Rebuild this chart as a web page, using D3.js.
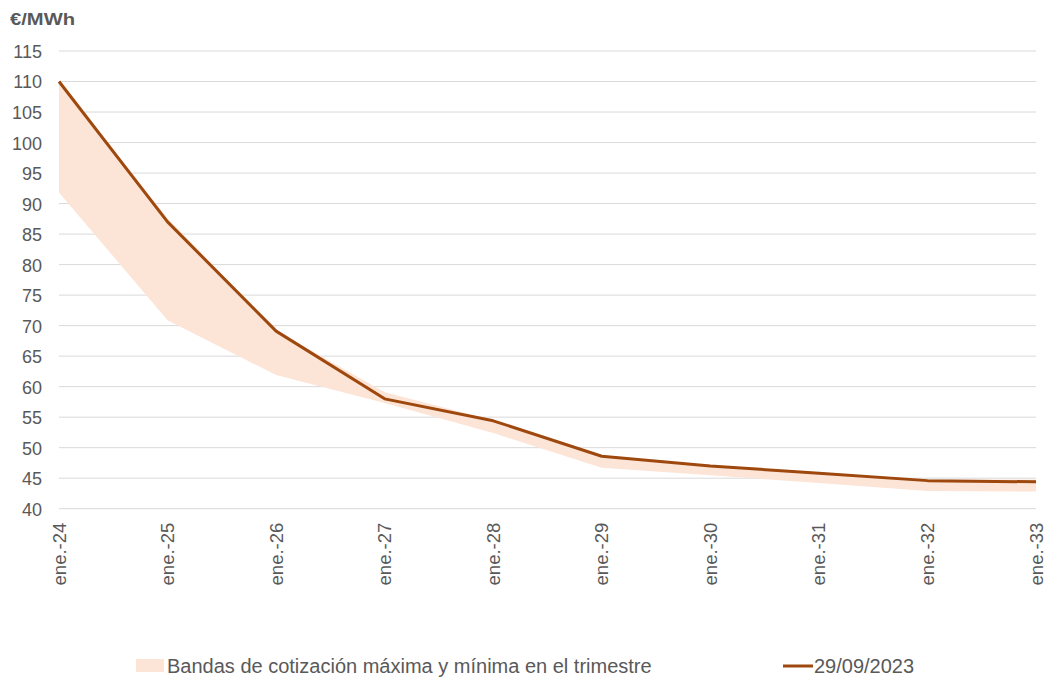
<!DOCTYPE html>
<html>
<head>
<meta charset="utf-8">
<script src="https://cdn.jsdelivr.net/npm/d3@7"></script>
<style>
  body { margin: 0; background: #fff; }
  svg { font-family: "Liberation Sans", Arial, sans-serif; }
</style>
</head>
<body>
<svg id="chart" width="1045" height="680"></svg>
<script>
// Forward curve dates
const categories = ["ene.-24", "ene.-25", "ene.-26", "ene.-27", "ene.-28", "ene.-29", "ene.-30", "ene.-31", "ene.-32", "ene.-33"];
// Quote on 29/09/2023 (€/MWh)
const quote = [110, 87.0, 69.1, 58.0, 54.4, 48.6, 47.0, 45.8, 44.6, 44.4];
// Quarterly max / min quote band (€/MWh)
const bandMax = [110, 87.6, 69.2, 59.1, 54.5, 48.7, 47.1, 45.9, 44.8, 44.8];
const bandMin = [91.8, 70.9, 61.9, 57.3, 52.4, 46.7, 45.5, 44.2, 42.9, 42.8];
const yTicks = [40, 45, 50, 55, 60, 65, 70, 75, 80, 85, 90, 95, 100, 105, 110, 115];

const svg = d3.select("#chart");
const plotLeft = 59, plotRight = 1036, plotTop = 51, plotBottom = 508.7;

const x = d3.scalePoint().domain(categories).range([plotLeft, plotRight]);
const y = d3.scaleLinear().domain([40, 115]).range([plotBottom, plotTop]);

const textColor = "#595959";

// Horizontal gridlines
svg.append("g")
  .selectAll("line")
  .data(yTicks)
  .join("line")
  .attr("x1", plotLeft).attr("x2", plotRight)
  .attr("y1", d => y(d)).attr("y2", d => y(d))
  .attr("stroke", "#d9d9d9").attr("stroke-width", 1);

// Y axis labels
const yAxis = svg.append("g")
  .attr("transform", "translate(42,0)")
  .call(d3.axisLeft(y).tickValues(yTicks).tickSize(0).tickPadding(0));
yAxis.select(".domain").remove();
yAxis.selectAll("text")
  .attr("fill", textColor)
  .style("font-size", "18px")
  .attr("x", 0)
  .attr("dy", "0.36em");

// X axis labels (rotated)
const xAxis = svg.append("g")
  .attr("transform", `translate(0,${plotBottom})`)
  .call(d3.axisBottom(x).tickSize(0).tickPadding(0));
xAxis.select(".domain").remove();
xAxis.selectAll("text")
  .attr("fill", textColor)
  .style("font-size", "18.5px")
  .attr("text-anchor", "end")
  .attr("transform", "translate(0,14) rotate(-90)")
  .attr("x", 0).attr("y", 0)
  .attr("dy", "0.33em");

// Max/min band
const bandData = categories.map((c, i) => ({ c, hi: bandMax[i], lo: bandMin[i] }));
svg.append("path")
  .datum(bandData)
  .attr("fill", "#fce4d6")
  .attr("d", d3.area().x(d => x(d.c)).y0(d => y(d.lo)).y1(d => y(d.hi)));

// Quote line
svg.append("path")
  .datum(categories.map((c, i) => ({ c, v: quote[i] })))
  .attr("fill", "none")
  .attr("stroke", "#9e480e")
  .attr("stroke-width", 3)
  .attr("stroke-linejoin", "round")
  .attr("d", d3.line().x(d => x(d.c)).y(d => y(d.v)));

// Unit label
svg.append("text")
  .attr("x", 10).attr("y", 25)
  .attr("fill", textColor)
  .style("font-size", "17px").style("font-weight", "bold")
  .attr("textLength", 65).attr("lengthAdjust", "spacingAndGlyphs")
  .text("€/MWh");

// Legend
const legend = svg.append("g");
legend.append("rect")
  .attr("x", 136).attr("y", 659).attr("width", 28).attr("height", 13)
  .attr("fill", "#fce4d6");
legend.append("text")
  .attr("x", 167).attr("y", 673)
  .attr("fill", textColor).style("font-size", "20px")
  .text("Bandas de cotización máxima y mínima en el trimestre");
legend.append("line")
  .attr("x1", 783).attr("x2", 813).attr("y1", 666).attr("y2", 666)
  .attr("stroke", "#9e480e").attr("stroke-width", 3);
legend.append("text")
  .attr("x", 814).attr("y", 673)
  .attr("fill", textColor).style("font-size", "20px")
  .text("29/09/2023");
</script>
</body>
</html>
